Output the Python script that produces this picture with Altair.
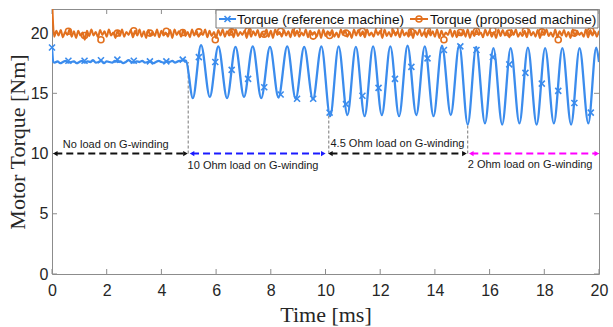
import altair as alt
import pandas as pd

# ---------------- data ----------------
# Orange: proposed machine torque, ripple extrema sampled every 0.08 ms
orange_values = [
    23.0, 19.7, 20.2, 19.8, 20.25, 19.65, 20.1, 19.85, 20.3, 19.7,
    20.15, 19.6, 20.2, 19.8, 20.05, 19.45, 20.2, 19.75, 20.3, 19.8,
    20.1, 19.65, 20.25, 19.85, 20.15, 19.7, 20.3, 19.8, 20.05, 19.6,
    20.2, 19.75, 20.3, 19.7, 20.1, 19.85, 20.25, 19.65, 20.2, 19.8,
    20.3, 19.7, 20.15, 19.6, 20.25, 19.8, 20.1, 19.75, 20.3, 19.65,
    20.2, 19.8, 20.05, 19.7, 20.25, 19.6, 20.3, 19.85, 20.15, 19.7,
    20.25, 19.75, 20.1, 19.65, 20.3, 19.8, 20.2, 19.7, 20.05, 19.85,
    20.3, 19.65, 20.2, 19.75, 20.1, 19.6, 20.25, 19.8, 20.3, 19.7,
    20.15, 19.8, 20.25, 19.65, 20.3, 19.75, 20.1, 19.85, 20.2, 19.6,
    20.3, 19.7, 20.15, 19.8, 20.25, 19.65, 20.05, 19.75, 20.3, 19.7,
    20.2, 19.6, 20.3, 19.85, 20.1, 19.7, 20.25, 19.8, 20.15, 19.65,
    20.3, 19.75, 20.2, 19.7, 20.05, 19.8, 20.3, 19.65, 20.2, 19.85,
    20.1, 19.7, 20.25, 19.6, 20.3, 19.75, 20.15, 19.8, 20.25, 19.7,
    20.05, 19.65, 20.3, 19.85, 20.2, 19.7, 20.1, 19.6, 20.3, 19.8,
    20.25, 19.75, 20.15, 19.65, 20.3, 19.8, 20.05, 19.7, 20.25, 19.85,
    20.2, 19.6, 20.3, 19.75, 20.1, 19.7, 20.25, 19.8, 20.15, 19.65,
    20.3, 19.8, 20.05, 19.7, 20.25, 19.6, 20.2, 19.85, 20.3, 19.75,
    20.1, 19.65, 20.25, 19.8, 20.15, 19.7, 20.3, 19.6, 20.2, 19.75,
    20.05, 19.85, 20.3, 19.7, 20.2, 19.65, 20.1, 19.8, 20.25, 19.7,
    20.3, 19.6, 20.15, 19.75, 20.25, 19.85, 20.05, 19.65, 20.3, 19.8,
    20.2, 19.7, 20.1, 19.6, 20.3, 19.75, 20.25, 19.8, 20.15, 19.65,
    20.25, 19.85, 20.3, 19.7, 20.05, 19.75, 20.2, 19.65, 20.3, 19.8,
    20.1, 19.7, 20.25, 19.6, 20.2, 19.85, 20.3, 19.75, 20.05, 19.7,
    20.3, 19.65, 20.15, 19.8, 20.25, 19.7, 20.1, 19.6, 20.3, 19.75,
    20.2, 19.85, 20.05, 19.7, 20.3, 19.65, 20.25, 19.8, 20.15, 19.7,
    20.2,
]
orange_t = [round(i * 0.08, 2) for i in range(len(orange_values))]

# Blue: reference machine torque, no-load part (every 0.1 ms)
blue_flat_t = [0.0, 0.05] + [round(0.1 * i, 2) for i in range(1, 50)]
blue_flat_v = [18.8, 17.6,
    17.55, 17.65, 17.5, 17.6, 17.7, 17.55, 17.6, 17.65, 17.5, 17.6,
    17.7, 17.55, 17.65, 17.6, 17.75, 17.55, 17.6, 17.7, 17.5, 17.65,
    17.6, 17.55, 17.7, 17.6, 17.65, 17.5, 17.6, 17.75, 17.6, 17.55,
    17.65, 17.6, 17.7, 17.55, 17.6, 17.65, 17.5, 17.6, 17.7, 17.6,
    17.55, 17.65, 17.6, 17.7, 17.55, 17.65, 17.7, 17.75, 17.7]
# Blue: loaded part, extrema of the oscillation
blue_osc_t = [5.15, 5.45, 5.77, 6.08, 6.40, 6.71, 7.02, 7.34, 7.65, 7.97,
              8.28, 8.60, 8.91, 9.22, 9.54, 9.85, 10.17, 10.48, 10.80, 11.11,
              11.43, 11.74, 12.06, 12.37, 12.69, 13.00, 13.32, 13.63, 13.95, 14.26,
              14.58, 14.89, 15.20, 15.51, 15.83, 16.14, 16.46, 16.77, 17.09, 17.40,
              17.72, 18.03, 18.35, 18.66, 18.98, 19.29, 19.61, 19.90, 20.0]
blue_osc_v = [14.6, 19.0, 14.7, 18.9, 14.6, 18.85, 14.7, 18.9, 14.6, 18.85,
              14.65, 18.9, 14.55, 18.85, 14.5, 18.9, 13.1, 18.9, 13.2, 18.85,
              13.1, 18.9, 13.2, 18.9, 13.1, 18.95, 13.2, 18.9, 13.1, 18.95,
              13.2, 19.0, 12.4, 18.85, 12.5, 18.75, 12.4, 18.75, 12.5, 18.8,
              12.4, 18.75, 12.5, 18.75, 12.4, 18.75, 12.5, 18.8, 17.6]

marker_t = [0.0, 0.6, 1.19, 1.79, 2.39, 2.99, 3.58, 4.18, 4.78, 5.37,
            5.97, 6.57, 7.17, 7.76, 8.36, 8.96, 9.55, 10.15, 10.75, 11.35,
            11.94, 12.54, 13.14, 13.73, 14.33, 14.93, 15.52, 16.12, 16.72, 17.31,
            17.91, 18.51, 19.1, 19.7]
blue_marker_v = [18.8, 17.7, 17.7, 17.75, 17.8, 17.7, 17.65, 17.65, 17.8, 18.0,
                 17.6, 16.95, 16.2, 15.5, 14.9, 14.55, 14.55, 13.4, 14.1, 14.8,
                 15.45, 16.2, 17.2, 17.9, 18.6, 18.9, 18.6, 18.0, 17.4, 16.7,
                 15.8, 15.2, 14.2, 13.4]
orange_marker_t = marker_t[1:]
orange_marker_v = [20.15, 19.8, 19.45, 20.0, 20.2, 20.0, 20.15, 20.05, 20.1, 19.45,
                   20.1, 20.2, 19.9, 20.15, 20.25, 19.75, 19.8, 20.0, 20.15, 20.25,
                   20.25, 20.1, 20.2, 19.45, 20.05, 20.15, 20.25, 20.0, 20.2, 20.1,
                   19.45, 20.0, 20.2]

x_ticks = [0, 2, 4, 6, 8, 10, 12, 14, 16, 18, 20]
y_ticks = [0, 5, 10, 15, 20]

arrow_start = [0.12, 5.12, 10.18, 15.33]
arrow_end = [4.88, 9.92, 15.08, 19.92]
arrow_level = [10, 10, 10, 10]
arrow_color = ["#111111", "#1a1aff", "#111111", "#ff00ff"]

vline_t = [4.98, 10.12, 15.2]
vline_top = [17.6, 13.5, 12.4]
vline_bottom = [10, 10, 10]

label_text = ["No load on G-winding", "10 Ohm load on G-winding",
              "4.5 Ohm load on G-winding", "2 Ohm load on G-winding"]
label_t = [2.33, 7.35, 12.63, 17.48]
label_y = [10.75, 8.95, 10.8, 9.05]

legend_labels = ["Torque (reference machine)", "Torque (proposed machine)"]

# ---------------- styles ----------------
BLUE = "#3b8ced"
ORANGE = "#e2701e"
FRAME = "#8c8c8c"
TXT = "#262626"
W, H = 547, 265

xs = alt.Scale(domain=[0, 20], nice=False, zero=False)
ys = alt.Scale(domain=[0, 22], nice=False, zero=False)
xaxis = alt.Axis(values=x_ticks, title="Time [ms]", grid=False, domain=False, ticks=False,
                 tickSize=0, labelPadding=8, labelFont="Liberation Sans", labelFontSize=16,
                 labelColor=TXT, labelFlush=False, titleFont="Liberation Serif",
                 titleFontSize=22, titleFontWeight="normal", titleColor=TXT,
                 titleY=47, titleBaseline="alphabetic")
yaxis = alt.Axis(values=y_ticks, title="Motor Torque [Nm]", grid=False, domain=False, ticks=False,
                 tickSize=0, labelPadding=4, labelFont="Liberation Sans", labelFontSize=16,
                 labelColor=TXT, labelFlush=False, titleFont="Liberation Serif",
                 titleFontSize=22, titleFontWeight="normal", titleColor=TXT,
                 titleX=-35, titleY=H / 2, titleBaseline="middle", titleAlign="center")


def X(f):
    return alt.X(f, type="quantitative", scale=xs, axis=xaxis)


def Y(f):
    return alt.Y(f, type="quantitative", scale=ys, axis=yaxis)


one = pd.DataFrame({"a": [0]})

orange_df = pd.DataFrame({"t": orange_t, "v": orange_values})
blue_df = pd.DataFrame({"t": blue_flat_t + blue_osc_t, "v": blue_flat_v + blue_osc_v})
bm_df = pd.DataFrame({"t": marker_t, "v": blue_marker_v})
om_df = pd.DataFrame({"t": orange_marker_t, "v": orange_marker_v})
xt_df = pd.DataFrame({"v": x_ticks})
yt_df = pd.DataFrame({"v": y_ticks})
arrow_df = pd.DataFrame({"s": arrow_start, "e": arrow_end, "y": arrow_level, "c": arrow_color})
vl_df = pd.DataFrame({"t": vline_t, "a": vline_bottom, "b": vline_top})
lab_df = pd.DataFrame({"t": label_t, "y": label_y, "txt": label_text})

XSHAPE = "M-1,-1L1,1M-1,1L1,-1"

ticks_b = alt.Chart(xt_df).mark_rule(color=FRAME, strokeWidth=1).encode(
    x=X("v"), y=alt.value(H), y2=alt.value(H - 5))
ticks_t = alt.Chart(xt_df).mark_rule(color=FRAME, strokeWidth=1).encode(
    x=X("v"), y=alt.value(0), y2=alt.value(5))
ticks_l = alt.Chart(yt_df).mark_rule(color=FRAME, strokeWidth=1).encode(
    y=Y("v"), x=alt.value(0), x2=alt.value(5))
ticks_r = alt.Chart(yt_df).mark_rule(color=FRAME, strokeWidth=1).encode(
    y=Y("v"), x=alt.value(W), x2=alt.value(W - 5))

vlines = alt.Chart(vl_df).mark_rule(color="#777777", strokeWidth=1, strokeDash=[3, 2]).encode(
    x=X("t"), y=Y("a"), y2="b")

arrows = alt.Chart(arrow_df).mark_rule(strokeWidth=2, strokeDash=[7, 4]).encode(
    x=X("s"), x2="e", y=Y("y"), color=alt.Color("c:N", scale=None))
heads_l = alt.Chart(arrow_df).mark_point(shape="triangle-left", filled=True, size=28, opacity=1).encode(
    x=X("s"), y=Y("y"), color=alt.Color("c:N", scale=None))
heads_r = alt.Chart(arrow_df).mark_point(shape="triangle-right", filled=True, size=28, opacity=1).encode(
    x=X("e"), y=Y("y"), color=alt.Color("c:N", scale=None))

labels = alt.Chart(lab_df).mark_text(font="Liberation Sans", fontSize=11, color="#1a1a1a",
                                     align="center", baseline="middle").encode(
    x=X("t"), y=Y("y"), text="txt:N")

orange_line = alt.Chart(orange_df).mark_line(color=ORANGE, strokeWidth=2, interpolate="monotone",
                                            clip=True).encode(x=X("t"), y=Y("v"))
blue_line = alt.Chart(blue_df).mark_line(color=BLUE, strokeWidth=2.3, interpolate="monotone",
                                        clip=True).encode(x=X("t"), y=Y("v"))
blue_marks = alt.Chart(bm_df).mark_point(shape=XSHAPE, filled=False, size=36, strokeWidth=1.6,
                                         color=BLUE, opacity=1).encode(x=X("t"), y=Y("v"))
orange_marks = alt.Chart(om_df).mark_point(shape="circle", filled=False, size=36, strokeWidth=1.6,
                                           color=ORANGE, opacity=1, clip=True).encode(x=X("t"), y=Y("v"))

# legend (drawn by hand, pixel positions inside the plot area)
leg_box = alt.Chart(one).mark_rect(fill="white", stroke="#777777", strokeWidth=1).encode(
    x=alt.value(164), x2=alt.value(546), y=alt.value(1), y2=alt.value(19))
leg_bline = alt.Chart(one).mark_rule(color=BLUE, strokeWidth=2).encode(
    x=alt.value(167), x2=alt.value(184), y=alt.value(10))
leg_bmark = alt.Chart(one).mark_point(shape=XSHAPE, filled=False, size=36, strokeWidth=1.6,
                                      color=BLUE, opacity=1).encode(x=alt.value(175.5), y=alt.value(10))
leg_btext = alt.Chart(one).mark_text(font="Liberation Sans", fontSize=13.6, color="#111111",
                                     align="left", baseline="middle").encode(
    x=alt.value(185), y=alt.value(10.5), text=alt.value(legend_labels[0]))
leg_oline = alt.Chart(one).mark_rule(color=ORANGE, strokeWidth=2).encode(
    x=alt.value(358), x2=alt.value(376), y=alt.value(10))
leg_omark = alt.Chart(one).mark_point(shape="circle", filled=False, size=36, strokeWidth=1.6,
                                      color=ORANGE, opacity=1).encode(x=alt.value(367), y=alt.value(10))
leg_otext = alt.Chart(one).mark_text(font="Liberation Sans", fontSize=13.6, color="#111111",
                                     align="left", baseline="middle").encode(
    x=alt.value(378), y=alt.value(10.5), text=alt.value(legend_labels[1]))

chart = alt.layer(
    ticks_b, ticks_t, ticks_l, ticks_r, vlines, arrows, heads_l, heads_r, labels,
    orange_line, blue_line, blue_marks, orange_marks,
    leg_box, leg_bline, leg_bmark, leg_btext, leg_oline, leg_omark, leg_otext,
).properties(
    width=W, height=H,
    padding={"left": 52, "top": 9, "right": 14, "bottom": 53},
    autosize=alt.AutoSizeParams(type="none"),
    background="white",
).configure_view(stroke=FRAME, strokeWidth=1)

chart.save("out.html", embed_options={"renderer": "svg", "actions": False})
